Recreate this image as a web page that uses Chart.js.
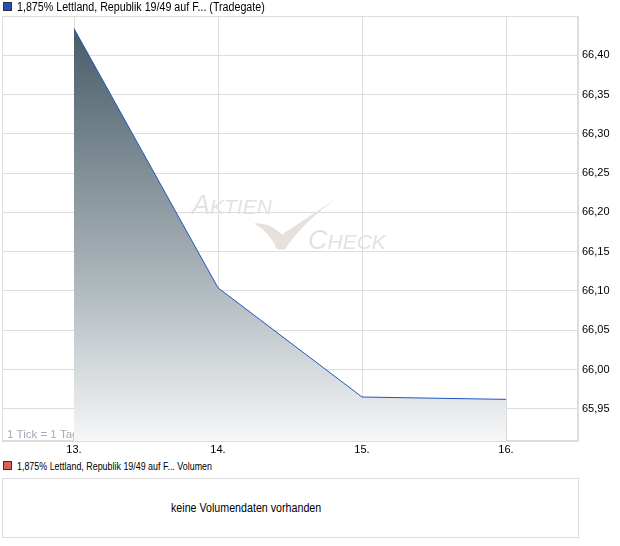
<!DOCTYPE html>
<html>
<head>
<meta charset="utf-8">
<script src="https://cdn.jsdelivr.net/npm/chart.js@4/dist/chart.umd.min.js"></script>
<style>
  body { margin: 0; background: #fff; font-family: "Liberation Sans", Arial, sans-serif; }
  #wrap { position: relative; width: 620px; height: 546px; }
  .leg { position: absolute; left: 3px; white-space: nowrap; color: #000; }
  .leg span.box { display: inline-block; width: 7px; height: 7px; border: 1px solid #333; margin-right: 5px; vertical-align: 0px; }
  .leg span.txt { display: inline-block; transform: scaleX(0.89); transform-origin: left center; }
  #leg1 { top: 0px; font-size: 12px; }
  #leg2 { top: 461px; font-size: 10px; }
  #chartBox { position: absolute; left: 0; top: 0; width: 620px; height: 456px; }
  #vol { position: absolute; left: 2px; top: 478px; width: 575px; height: 58px; border: 1px solid #ddd; }
  #vol span { position: absolute; left: 168px; top: 0; line-height: 58px; font-size: 12px; color: #000;
              white-space: nowrap; transform: scaleX(0.89); transform-origin: left center; }
</style>
</head>
<body>
<div id="wrap">
  <div id="chartBox"><canvas id="priceChart" width="620" height="456"></canvas></div>
  <div class="leg" id="leg1"><span class="box" style="background:#2050b8"></span><span class="txt">1,875% Lettland, Republik 19/49 auf F... (Tradegate)</span></div>
  <div class="leg" id="leg2"><span class="box" style="background:#d9605a"></span><span class="txt">1,875% Lettland, Republik 19/49 auf F... Volumen</span></div>
  <div id="vol"><span>keine Volumendaten vorhanden</span></div>
</div>
<script>
// Kursdaten (Tradegate), 1 Tick = 1 Tag
const days = [13, 14, 15, 16];
const prices = [66.434, 66.104, 65.965, 65.962];
const yTicks = [65.95, 66.00, 66.05, 66.10, 66.15, 66.20, 66.25, 66.30, 66.35, 66.40];
const yMin = 65.909;
const yMax = 66.45;

const gridColor = '#dddddd';

// Rahmen, Wasserzeichen und "1 Tick = 1 Tag"
const decoPlugin = {
    id: 'deco',
    beforeDatasetsDraw(chart) {
        const ctx = chart.ctx;
        const a = chart.chartArea;
        ctx.save();
        ctx.strokeStyle = gridColor;
        ctx.lineWidth = 1;
        ctx.strokeRect(a.left + 0.5, a.top + 0.5, a.right - a.left - 1, a.bottom - a.top - 1);

        // Wasserzeichen
        const cx = (a.left + a.right) / 2;
        const cy = (a.top + a.bottom) / 2;
        ctx.fillStyle = '#e6e1dc';
        ctx.textBaseline = 'alphabetic';
        ctx.font = 'italic 27px "Liberation Sans", Arial';
        ctx.fillText('A', cx - 98, cy - 15);
        let w = ctx.measureText('A').width;
        ctx.font = 'italic 21px "Liberation Sans", Arial';
        ctx.fillText('KTIEN', cx - 98 + w, cy - 15);
        ctx.font = 'italic 27px "Liberation Sans", Arial';
        ctx.fillText('C', cx + 18, cy + 20);
        w = ctx.measureText('C').width;
        ctx.font = 'italic 21px "Liberation Sans", Arial';
        ctx.fillText('HECK', cx + 18 + w, cy + 20);
        ctx.beginPath();
        ctx.moveTo(cx - 36, cy - 5);
        ctx.quadraticCurveTo(cx - 22, cy - 7, cx - 8, cy + 6);
        ctx.lineTo(cx + 51, cy - 33);
        ctx.quadraticCurveTo(cx + 12, cy - 6, cx - 5, cy + 21);
        ctx.lineTo(cx - 13, cy + 21);
        ctx.quadraticCurveTo(cx - 20, cy + 4, cx - 36, cy - 5);
        ctx.fill();

        ctx.fillStyle = '#a3abb8';
        ctx.font = '11.5px "Liberation Sans", Arial';
        ctx.fillText('1 Tick = 1 Tag', a.left + 5, a.bottom - 3);
        ctx.restore();
    }
};

function fmt(v) {
    return v.toFixed(2).replace('.', ',');
}

const ctx = document.getElementById('priceChart').getContext('2d');
new Chart(ctx, {
    type: 'line',
    data: {
        datasets: [{
            data: days.map((d, i) => ({ x: d, y: prices[i] })),
            borderColor: '#1f55c0',
            borderWidth: 1,
            pointRadius: 0,
            tension: 0,
            fill: 'start',
            backgroundColor: (c) => {
                const chart = c.chart;
                const a = chart.chartArea;
                if (!a) return 'rgba(0,0,0,0)';
                const top = chart.scales.y.getPixelForValue(Math.max(...prices));
                const g = chart.ctx.createLinearGradient(0, top, 0, a.bottom);
                g.addColorStop(0, '#485c68');
                g.addColorStop(0.6, '#aab4b9');
                g.addColorStop(1, '#f6f7f8');
                return g;
            }
        }]
    },
    options: {
        responsive: false,
        animation: false,
        layout: { padding: { left: 2, top: 16, right: 0, bottom: 0 } },
        plugins: {
            legend: { display: false },
            tooltip: { enabled: false }
        },
        scales: {
            x: {
                type: 'linear',
                min: 12.5,
                max: 16.5,
                afterBuildTicks: s => { s.ticks = days.map(v => ({ value: v })); },
                afterFit: s => { s.height = 15; },
                ticks: {
                    callback: v => v + '.',
                    color: '#000',
                    font: { family: '"Liberation Sans", Arial', size: 11 },
                    padding: 2,
                    maxRotation: 0,
                    autoSkip: false
                },
                grid: { color: gridColor, drawTicks: false },
                border: { color: gridColor }
            },
            y: {
                position: 'right',
                min: yMin,
                max: yMax,
                afterBuildTicks: s => { s.ticks = yTicks.map(v => ({ value: v })); },
                afterFit: s => { s.width = 42; },
                ticks: {
                    callback: v => fmt(v),
                    color: '#000',
                    font: { family: '"Liberation Sans", Arial', size: 11 },
                    padding: 4
                },
                grid: { color: gridColor, drawTicks: false },
                border: { color: gridColor }
            }
        }
    },
    plugins: [decoPlugin]
});
</script>
</body>
</html>
